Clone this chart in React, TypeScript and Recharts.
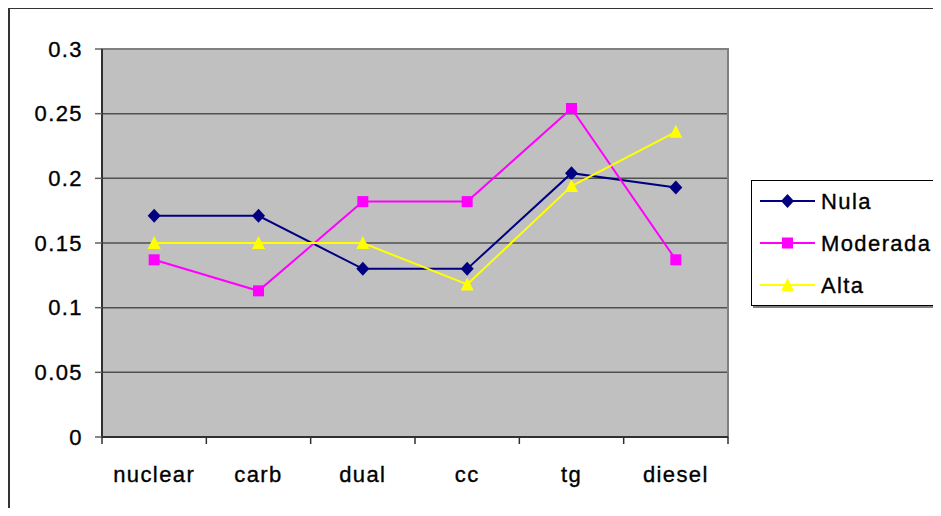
import { LineChart, Line, XAxis, YAxis, CartesianGrid, ReferenceArea } from "recharts";

const categories = ["nuclear", "carb", "dual", "cc", "tg", "diesel"];
const nula = [0.171, 0.171, 0.13, 0.13, 0.204, 0.193];
const moderada = [0.137, 0.113, 0.182, 0.182, 0.254, 0.137];
const alta = [0.15, 0.15, 0.15, 0.118, 0.194, 0.236];
const yTicks = [0, 0.05, 0.1, 0.15, 0.2, 0.25, 0.3];

const SERIES = [
  { key: "Nula", values: nula, color: "#000080", shape: "diamond" },
  { key: "Moderada", values: moderada, color: "#FF00FF", shape: "square" },
  { key: "Alta", values: alta, color: "#FFFF00", shape: "triangle" },
];

const data = categories.map((name, i) => {
  const row: Record<string, string | number> = { name };
  SERIES.forEach((s) => (row[s.key] = s.values[i]));
  return row;
});

const FONT = '"Liberation Sans", Arial, sans-serif';
const W = 933;
const H = 508;
const MARGIN = { top: 41, right: 213, bottom: 0, left: 0 };
const Y_WIDTH = 94;
const X_HEIGHT = 79;
const TICK = 7;
const X_MARGIN = 22;
const AXIS = "#303030";

const textStyle = {
  fill: "#000",
  stroke: "#000",
  strokeWidth: 0.35,
  fontSize: 22,
  fontFamily: FONT,
  letterSpacing: 1.4,
};

const Marker = ({ shape, cx, cy, color }: any) => {
  if (shape === "diamond")
    return <polygon points={`${cx},${cy - 7} ${cx + 6.5},${cy} ${cx},${cy + 7} ${cx - 6.5},${cy}`} fill={color} />;
  if (shape === "square") return <rect x={cx - 5.5} y={cy - 5.5} width={11} height={11} fill={color} />;
  return <polygon points={`${cx},${cy - 7} ${cx + 6.5},${cy + 6} ${cx - 6.5},${cy + 6}`} fill={color} />;
};

const bandWidth = (W - MARGIN.left - MARGIN.right - Y_WIDTH) / categories.length;

// category ticks sit between the bands, labels in the middle
const XTick = ({ x, y, payload, index }: any) => {
  const half = bandWidth / 2;
  const top = y - TICK - X_MARGIN;
  return (
    <g>
      <line x1={x - half} x2={x - half} y1={top} y2={top + TICK} stroke={AXIS} strokeWidth={1.5} />
      {index === categories.length - 1 && (
        <line x1={x + half} x2={x + half} y1={top} y2={top + TICK} stroke={AXIS} strokeWidth={1.5} />
      )}
      <text x={x} y={y} dy="0.71em" textAnchor="middle" style={textStyle}>
        {payload.value}
      </text>
    </g>
  );
};

const YTick = ({ x, y, payload }: any) => (
  <text x={x} y={y} dy="0.355em" textAnchor="end" style={textStyle}>
    {String(payload.value)}
  </text>
);

const ChartLegend = () => (
  <div
    style={{
      position: "absolute",
      left: 751,
      top: 180,
      width: 187,
      height: 124,
      border: "1px solid #000",
      boxShadow: "2px 2px 0 #808080",
      background: "#fff",
    }}
  >
    <svg width={187} height={124} style={{ display: "block" }}>
      {SERIES.map((s, i) => {
        const cy = 20 + i * 42;
        return (
          <g key={s.key}>
            <line x1={8} x2={63} y1={cy} y2={cy} stroke={s.color} strokeWidth={2} />
            <Marker shape={s.shape} cx={35.5} cy={cy} color={s.color} />
            <text x={69} y={cy} dy="0.355em" style={textStyle}>
              {s.key}
            </text>
          </g>
        );
      })}
    </svg>
  </div>
);

export default function App() {
  return (
    <div
      style={{
        position: "relative",
        width: 941,
        height: 516,
        overflow: "hidden",
        margin: "-8px 0 -8px -8px",
        background: "#fff",
      }}
    >
      <div
        style={{
          position: "absolute",
          left: 8,
          top: 7,
          width: 2000,
          height: 2000,
          borderLeft: "2px solid #333",
          borderTop: "2px solid #333",
        }}
      />
      <div style={{ position: "absolute", left: 8, top: 8 }}>
        <LineChart width={W} height={H} data={data} margin={MARGIN}>
          <CartesianGrid vertical={false} stroke="#505050" strokeWidth={1.5} fill="#C0C0C0" fillOpacity={1} />
          <ReferenceArea y1={0} y2={0.3} fill="none" stroke="#808080" strokeWidth={2} ifOverflow="visible" />
          <XAxis
            dataKey="name"
            scale="band"
            height={X_HEIGHT}
            tickLine={false}
            tickSize={TICK}
            tickMargin={X_MARGIN}
            axisLine={{ stroke: AXIS, strokeWidth: 2 }}
            tick={<XTick />}
            interval={0}
          />
          <YAxis
            width={Y_WIDTH}
            domain={[0, 0.3]}
            ticks={yTicks}
            tickSize={TICK}
            tickMargin={12}
            tickLine={{ stroke: "#606060", strokeWidth: 1.5 }}
            axisLine={{ stroke: AXIS, strokeWidth: 2 }}
            tick={<YTick />}
          />
          {SERIES.map((s) => (
            <Line
              key={s.key}
              type="linear"
              dataKey={s.key}
              stroke={s.color}
              strokeWidth={2}
              isAnimationActive={false}
              activeDot={false}
              dot={(p: any) => (
                <g key={`${s.key}-${p.index}`}>
                  <Marker shape={s.shape} cx={p.cx} cy={p.cy} color={s.color} />
                </g>
              )}
            />
          ))}
        </LineChart>
      </div>
      <ChartLegend />
    </div>
  );
}
